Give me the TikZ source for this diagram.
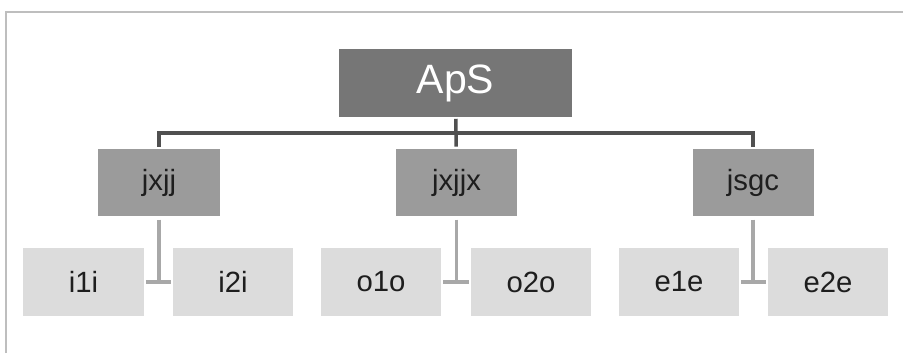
\documentclass[tikz,border=0pt]{standalone}
\usepackage{fontspec}
\setmainfont{Liberation Sans}
\usepackage{xcolor}
\definecolor{bossgray}{RGB}{118,118,118}
\definecolor{midgray}{RGB}{155,155,155}
\definecolor{leafgray}{RGB}{220,220,220}
\definecolor{bargray}{RGB}{80,80,80}
\definecolor{twiggray}{RGB}{168,168,168}
\definecolor{framegray}{RGB}{190,190,190}
\definecolor{inkgray}{RGB}{30,30,30}

\begin{document}
\begin{tikzpicture}[x=0.03cm,y=-0.03cm]

\tikzset{boss/.style = {rectangle,fill=bossgray,text=white,inner sep=0pt,outer sep=0pt,minimum width=6.99cm,minimum height=2.04cm,font=\fontsize{35}{40}\selectfont}}
\tikzset{unit/.style = {rectangle,fill=midgray,text=inkgray,inner sep=0pt,outer sep=0pt,minimum width=3.63cm,minimum height=2.01cm,font=\fontsize{25}{30}\selectfont}}
\tikzset{leaf/.style = {rectangle,fill=leafgray,text=inkgray,inner sep=0pt,outer sep=0pt,minimum width=3.6cm,minimum height=2.04cm,font=\fontsize{25}{30}\selectfont}}
\tikzset{upper/.style = {draw=bargray,line width=3pt}}
\tikzset{lower/.style = {draw=twiggray,line width=2.8pt}}
\tikzset{frame/.style = {draw=framegray,line width=1.6pt}}

\useasboundingbox (0,0) rectangle (903,353);
\draw[frame] (6,353) -- (6,12) -- (903,12);

\node[boss] (aps) at (455.5,83) {ApS};
\node[unit] (jxjj) at (159,182.5) {jxjj};
\node[unit] (jxjjx) at (456.5,182.5) {jxjjx};
\node[unit] (jsgc) at (753,182.5) {jsgc};
\node[leaf] (i1i) at (83.5,282) {i1i};
\node[leaf] (i2i) at (233,282) {i2i};
\node[leaf] (o1o) at (381,282) {o1o};
\node[leaf] (o2o) at (531,282) {o2o};
\node[leaf] (e1e) at (679,282) {e1e};
\node[leaf] (e2e) at (828,282) {e2e};
\coordinate (bar) at (456.5,133);

%edges
\draw[upper,shorten <=1.5pt,shorten >=2pt] (aps) -- (jxjjx);
\draw[upper,shorten <=2pt,shorten >=2pt] (jxjj.north) |- (bar) -| (jsgc.north);
\draw[lower,shorten <=3pt] (jxjj.south) -- (jxjj.south |- i1i.east);
\draw[lower,shorten <=2pt,shorten >=2pt] (i1i) -- (i2i);
\draw[lower,shorten <=3pt] (jxjjx.south) -- (jxjjx.south |- o1o.east);
\draw[lower,shorten <=2pt,shorten >=2pt] (o1o) -- (o2o);
\draw[lower,shorten <=3pt] (jsgc.south) -- (jsgc.south |- e1e.east);
\draw[lower,shorten <=2pt,shorten >=2pt] (e1e) -- (e2e);
\end{tikzpicture}
\end{document}
